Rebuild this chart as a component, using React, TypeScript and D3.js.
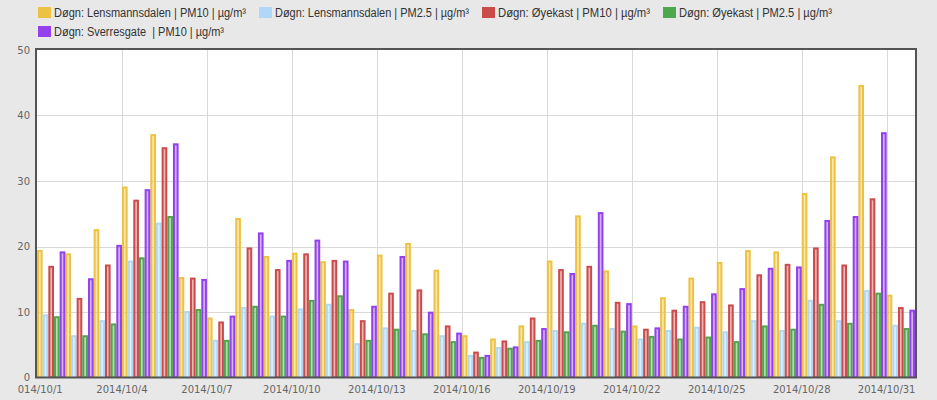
import React from "react";
import * as d3 from "d3";

const dates: string[] = [
  "2014-10-01","2014-10-02","2014-10-03","2014-10-04","2014-10-05","2014-10-06","2014-10-07","2014-10-08",
  "2014-10-09","2014-10-10","2014-10-11","2014-10-12","2014-10-13","2014-10-14","2014-10-15","2014-10-16",
  "2014-10-17","2014-10-18","2014-10-19","2014-10-20","2014-10-21","2014-10-22","2014-10-23","2014-10-24",
  "2014-10-25","2014-10-26","2014-10-27","2014-10-28","2014-10-29","2014-10-30","2014-10-31",
];

const tickDates: string[] = [
  "2014-10-01","2014-10-04","2014-10-07","2014-10-10","2014-10-13","2014-10-16",
  "2014-10-19","2014-10-22","2014-10-25","2014-10-28","2014-10-31",
];
const tickLabels: string[] = [
  "2014/10/1","2014/10/4","2014/10/7","2014/10/10","2014/10/13","2014/10/16",
  "2014/10/19","2014/10/22","2014/10/25","2014/10/28","2014/10/31",
];
const yTicks: number[] = [0, 10, 20, 30, 40, 50];

const lensPM10 = [19.3,18.8,22.5,29.0,37.0,15.2,9.0,24.2,18.4,18.9,17.6,10.3,18.6,20.4,16.3,6.3,5.8,7.8,17.7,24.6,16.2,7.8,12.1,15.1,17.5,19.3,19.1,28.0,33.6,44.5,12.5];
const lensPM25 = [9.5,6.3,8.6,17.7,23.5,10.0,5.6,10.6,9.3,10.4,11.1,5.1,7.5,7.1,6.3,3.3,4.5,5.4,7.1,8.2,7.4,5.8,7.1,7.6,6.9,8.6,7.1,11.7,8.6,13.2,7.9];
const oyePM10 = [16.9,12.0,17.1,27.0,35.0,15.1,8.4,19.7,16.4,18.8,17.8,8.6,12.8,13.3,7.8,3.8,5.5,9.0,16.4,16.9,11.4,7.3,10.2,11.5,11.0,15.6,17.2,19.7,17.1,27.2,10.6];
const oyePM25 = [9.2,6.3,8.1,18.2,24.5,10.3,5.6,10.8,9.3,11.7,12.4,5.6,7.3,6.6,5.4,3.0,4.4,5.6,6.9,7.9,7.0,6.2,5.8,6.1,5.4,7.8,7.3,11.1,8.2,12.8,7.4];
const sverrePM10 = [19.1,15.0,20.1,28.6,35.6,14.9,9.3,22.0,17.8,20.9,17.7,10.8,18.4,9.9,6.7,3.3,4.6,7.4,15.8,25.1,11.2,7.5,10.8,12.7,13.5,16.6,16.8,23.9,24.5,37.3,10.2];

const seriesNames = [
  "Døgn: Lensmannsdalen | PM10 | µg/m³",
  "Døgn: Lensmannsdalen | PM2.5 | µg/m³",
  "Døgn: Øyekast | PM10 | µg/m³",
  "Døgn: Øyekast | PM2.5 | µg/m³",
  "Døgn: Sverresgate  | PM10 | µg/m³",
];
const seriesColors = ["#edc240", "#afd8f8", "#cb4b4b", "#4da74d", "#9440ed"];
const seriesValues = [lensPM10, lensPM25, oyePM10, oyePM25, sverrePM10];

const W = 937, H = 400;
const plotL = 37, plotR = 915, plotT = 50, plotB = 377.5;

const parse = d3.timeParse("%Y-%m-%d");

export default function App() {
  const start = parse(dates[0])!;
  const end = d3.timeDay.offset(parse(dates[dates.length - 1])!, 1);
  const x = d3.scaleTime().domain([start, end]).range([plotL, plotR]);
  const y = d3.scaleLinear().domain([0, 50]).range([plotB, plotT]);
  const nS = seriesValues.length;

  // legend layout (flow, wraps after 4 items as in the reference)
  const legendTextW = 192;
  const textWidths = [192, 194, 152, 153, 170];
  const items: { x: number; y: number; name: string; color: string }[] = [];
  let lx = 38, ly = 0;
  seriesNames.forEach((name, i) => {
    const w = 16 + (textWidths[i] ?? legendTextW);
    if (lx + w > 900 && lx > 38) { lx = 38; ly += 19; }
    items.push({ x: lx, y: ly, name, color: seriesColors[i] });
    lx += w + 13;
  });

  const bars: JSX.Element[] = [];
  seriesValues.forEach((vals, s) => {
    vals.forEach((v, i) => {
      const d0 = parse(dates[i])!;
      const d1 = d3.timeDay.offset(d0, 1);
      const x0 = x(d0), x1 = x(d1);
      const slot = (x1 - x0) / nS;
      const bx = x0 + s * slot;
      bars.push(
        <rect key={`${s}-${i}`} x={bx + 1} y={y(v)} width={slot - 2} height={y(0) - y(v)}
          fill={seriesColors[s]} fillOpacity={0.4} stroke={seriesColors[s]} strokeWidth={2} />
      );
    });
  });

  const axisFont = "'DejaVu Sans', Verdana, sans-serif";
  const legendFamily = "'Liberation Sans', Arial, sans-serif";

  return (
    <svg width={W} height={H} style={{ position: "absolute", left: 0, top: 0, background: "#e8e8e8" }}>
      <defs>
        <clipPath id="plotclip">
          <rect x={plotL - 1} y={plotT - 1} width={plotR - plotL + 2} height={plotB - plotT + 1} />
        </clipPath>
        <clipPath id="labelclip">
          <rect x={18} y={0} width={W - 18} height={H} />
        </clipPath>
      </defs>
      <rect x={0} y={0} width={W} height={H} fill="#e8e8e8" />
      {items.map((it, i) => (
        <g key={i} transform={`translate(${it.x},${it.y})`}>
          <rect x={0} y={7} width={13} height={11} fill={it.color} />
          <text x={16} y={17} fontFamily={legendFamily} fontSize={12} fill="#333"
            textLength={textWidths[i]} lengthAdjust="spacingAndGlyphs"
            style={{ whiteSpace: "pre" }}>{it.name}</text>
        </g>
      ))}
      <rect x={plotL - 1} y={plotT - 1} width={plotR - plotL + 2} height={plotB - plotT + 1} fill="#fff" />
      {yTicks.slice(1, -1).map((t) => (
        <line key={`gy${t}`} x1={plotL} x2={plotR} y1={Math.round(y(t)) + 0.5} y2={Math.round(y(t)) + 0.5} stroke="#d9d9d9" strokeWidth={1} />
      ))}
      {tickDates.slice(1).map((t) => {
        const xx = Math.round(x(parse(t)!)) + 0.5;
        return <line key={`gx${t}`} x1={xx} x2={xx} y1={plotT} y2={plotB} stroke="#d9d9d9" strokeWidth={1} />;
      })}
      <g clipPath="url(#plotclip)">{bars}</g>
      <rect x={plotL - 1} y={plotT - 1} width={plotR - plotL + 2} height={plotB - plotT + 1}
        fill="none" stroke="#545454" strokeWidth={2} />
      {yTicks.map((t) => (
        <text key={`yl${t}`} x={30} y={y(t)} dy="0.35em" textAnchor="end" fontFamily={axisFont} fontSize={10} fill="#666">{t}</text>
      ))}
      <g clipPath="url(#labelclip)">
        {tickDates.map((t, i) => (
          <text key={`xl${t}`} x={x(parse(t)!)} y={393} textAnchor="middle" fontFamily={axisFont} fontSize={10} fill="#666">{tickLabels[i]}</text>
        ))}
      </g>
    </svg>
  );
}
